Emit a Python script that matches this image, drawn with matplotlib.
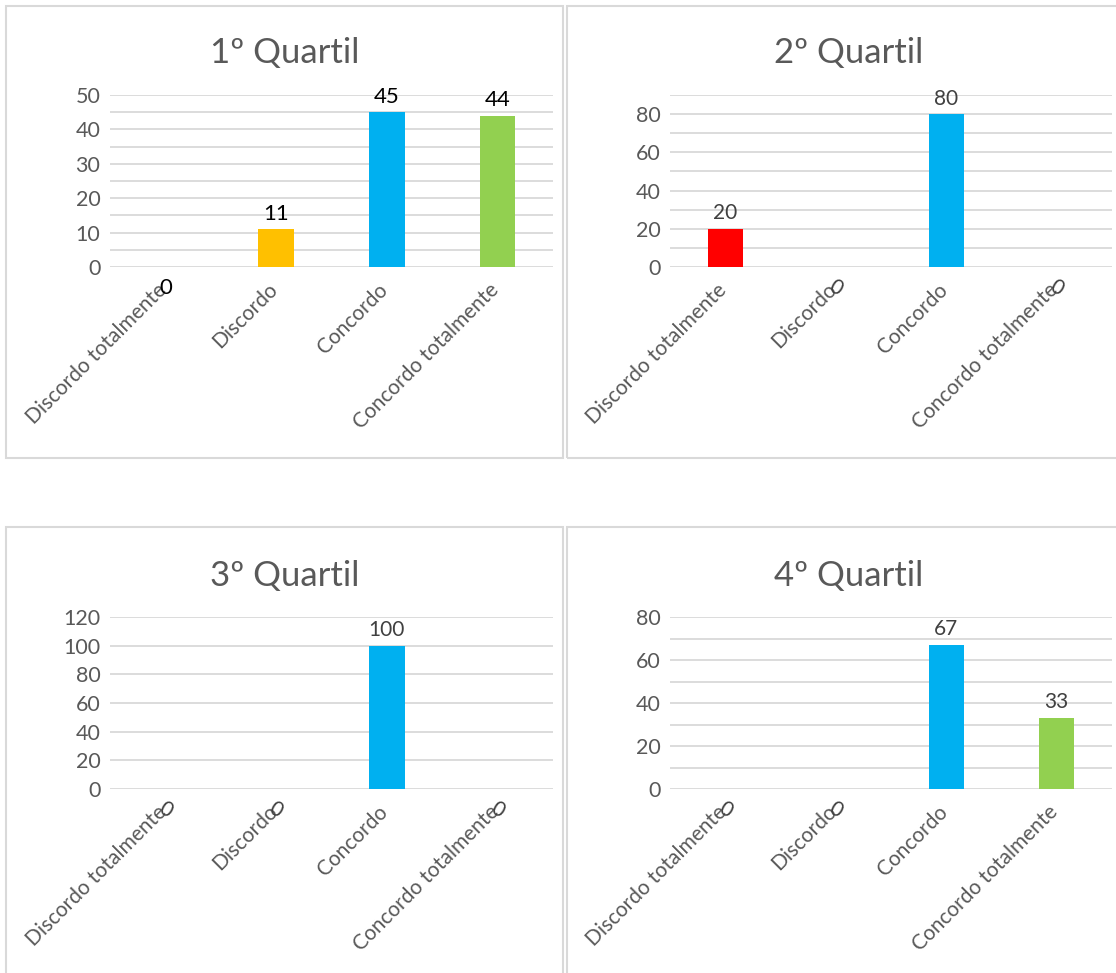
import matplotlib.pyplot as plt
from matplotlib.patches import Rectangle
from matplotlib.transforms import ScaledTranslation

plt.rcParams['font.family'] = ['Lato', 'DejaVu Sans']

categories = ["Discordo totalmente", "Discordo", "Concordo", "Concordo totalmente"]
bar_colors = ["#FF0000", "#FFC000", "#00B0F0", "#92D050"]

titles = ["1º Quartil", "2º Quartil", "3º Quartil", "4º Quartil"]
q1_values = [0, 11, 45, 44]
q2_values = [20, 0, 80, 0]
q3_values = [0, 0, 100, 0]
q4_values = [0, 0, 67, 33]
all_values = [q1_values, q2_values, q3_values, q4_values]

# axis scale per panel: (max, major step, minor step)
y_max = [50, 90, 120, 80]
y_major = [10, 20, 20, 20]
y_minor = [5, 10, 20, 10]

W, H = 1116, 973
fig = plt.figure(figsize=(W / 100, H / 100), dpi=100)

# pixel boxes (left, top, right, bottom) for frames and plot areas
frames = [(6, 6, 563, 458), (567, 6, 1130, 458),
          (6, 527, 563, 990), (567, 527, 1130, 990)]
plots = [(110, 95, 553, 267), (670, 95, 1112, 267),
         (110, 617, 553, 789), (670, 617, 1112, 789)]
title_y = [53, 53, 576, 576]

grid_color = "#D9D9D9"
text_gray = "#595959"

# nudge rotated category labels a little left/up
label_shift = ScaledTranslation(-9 / 100, 4 / 100, fig.dpi_scale_trans)

for i in range(4):
    fl, ft, fr, fb = frames[i]
    fig.patches.append(Rectangle((fl / W, 1 - fb / H), (fr - fl) / W, (fb - ft) / H,
                                 transform=fig.transFigure, fill=False,
                                 edgecolor=grid_color, linewidth=1.5))
    l, t, r, b = plots[i]
    ax = fig.add_axes([l / W, 1 - b / H, (r - l) / W, (b - t) / H])
    vals = all_values[i]
    x = list(range(len(categories)))

    for v in range(0, y_max[i] + 1, y_minor[i]):
        ax.axhline(v, color=grid_color, linewidth=1.3, zorder=0)

    ax.bar(x, vals, width=0.32, color=bar_colors, zorder=2)
    ax.set_xlim(-0.5, 3.5)
    ax.set_ylim(0, y_max[i])
    ax.set_yticks(range(0, y_max[i] + 1, y_major[i]))
    ax.tick_params(axis='y', length=0, labelsize=15.5, labelcolor=text_gray, pad=7)
    ax.tick_params(axis='x', length=0, pad=12)
    ax.set_xticks(x)
    ax.set_xticklabels(categories, rotation=45, ha='right', va='top',
                       rotation_mode='anchor', fontsize=15, color=text_gray)
    for lbl in ax.get_xticklabels():
        lbl.set_transform(lbl.get_transform() + label_shift)
    for s in ax.spines.values():
        s.set_visible(False)

    label_color = "black" if i == 0 else "#404040"
    label_size = 16 if i == 0 else 15
    for xi, v in zip(x, vals):
        if v > 0:
            ax.annotate(str(v), (xi, v), xytext=(0, 4), textcoords='offset points',
                        ha='center', va='bottom', fontsize=label_size, color=label_color)
        else:
            ax.annotate(str(v), (xi, 0), xytext=(0, -15), textcoords='offset points',
                        ha='center', va='center', fontsize=label_size, color=label_color,
                        rotation=0 if i == 0 else -30)

    fig.text(((fl + fr) / 2) / W, 1 - title_y[i] / H, titles[i], ha='center', va='center',
             fontsize=25, color=text_gray)

fig.savefig("out.png", dpi=100, facecolor="white")
